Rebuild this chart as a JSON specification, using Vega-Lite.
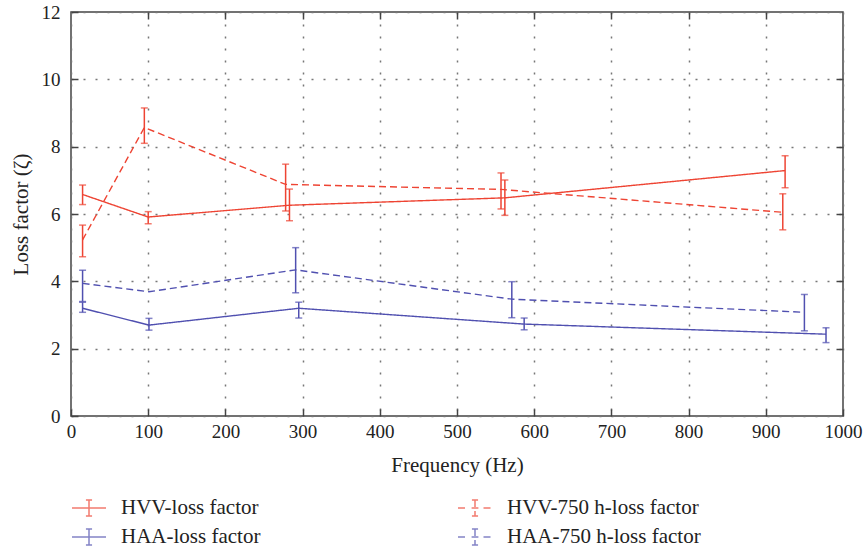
{
  "$schema": "https://vega.github.io/schema/vega-lite/v6.json",
  "width": 772,
  "height": 404,
  "autosize": {"type": "none"},
  "padding": {"left": 71, "top": 12, "right": 21, "bottom": 132},
  "background": "white",
  "config": {
    "font": "Liberation Serif",
    "view": {"stroke": "#444444", "strokeWidth": 1.5},
    "axis": {
      "domain": false,
      "labelFont": "Liberation Serif",
      "labelFontSize": 19,
      "labelColor": "#222222",
      "labelFlush": false,
      "titleFont": "Liberation Serif",
      "titleFontSize": 21,
      "titleFontWeight": "normal",
      "titleColor": "#222222",
      "tickColor": "#444444",
      "tickWidth": 1.5,
      "gridColor": "#777777",
      "gridDash": [2, 10],
      "gridWidth": 1.5
    },
    "legend": {
      "labelFont": "Liberation Serif",
      "labelFontSize": 21,
      "labelColor": "#222222",
      "labelLimit": 400
    }
  },
  "data": {
    "values": [
      {"series": "HVV-loss factor", "freq": 15, "val": 6.58, "lo": 6.28, "hi": 6.86},
      {"series": "HVV-loss factor", "freq": 100, "val": 5.91, "lo": 5.71, "hi": 6.07},
      {"series": "HVV-loss factor", "freq": 283, "val": 6.26, "lo": 5.8, "hi": 6.74},
      {"series": "HVV-loss factor", "freq": 562, "val": 6.48, "lo": 5.96, "hi": 7.01},
      {"series": "HVV-loss factor", "freq": 925, "val": 7.29, "lo": 6.78, "hi": 7.73},
      {"series": "HVV-750 h-loss factor", "freq": 15, "val": 5.23, "lo": 4.73, "hi": 5.67},
      {"series": "HVV-750 h-loss factor", "freq": 95, "val": 8.57, "lo": 8.1, "hi": 9.15},
      {"series": "HVV-750 h-loss factor", "freq": 278, "val": 6.88, "lo": 6.09, "hi": 7.48},
      {"series": "HVV-750 h-loss factor", "freq": 557, "val": 6.73, "lo": 6.15, "hi": 7.22},
      {"series": "HVV-750 h-loss factor", "freq": 922, "val": 6.05, "lo": 5.53, "hi": 6.6},
      {"series": "HAA-loss factor", "freq": 15, "val": 3.2, "lo": 3.08, "hi": 3.38},
      {"series": "HAA-loss factor", "freq": 101, "val": 2.7, "lo": 2.55, "hi": 2.9},
      {"series": "HAA-loss factor", "freq": 295, "val": 3.2, "lo": 2.91, "hi": 3.38},
      {"series": "HAA-loss factor", "freq": 587, "val": 2.73, "lo": 2.56, "hi": 2.91},
      {"series": "HAA-loss factor", "freq": 978, "val": 2.43, "lo": 2.18, "hi": 2.62},
      {"series": "HAA-750 h-loss factor", "freq": 15, "val": 3.94, "lo": 3.4, "hi": 4.33},
      {"series": "HAA-750 h-loss factor", "freq": 101, "val": 3.69, "lo": null, "hi": null},
      {"series": "HAA-750 h-loss factor", "freq": 291, "val": 4.34, "lo": 3.66, "hi": 5.0},
      {"series": "HAA-750 h-loss factor", "freq": 571, "val": 3.47, "lo": 2.92, "hi": 3.99},
      {"series": "HAA-750 h-loss factor", "freq": 950, "val": 3.08, "lo": 2.53, "hi": 3.61}
    ]
  },
  "layer": [
    {
      "mark": {"type": "line", "strokeWidth": 1.4},
      "encoding": {
        "x": {
          "field": "freq", "type": "quantitative",
          "scale": {"domain": [0, 1000], "nice": false},
          "axis": {
            "values": [0, 100, 200, 300, 400, 500, 600, 700, 800, 900, 1000],
            "format": "d",
            "title": "Frequency (Hz)",
            "grid": true,
            "tickSize": -7,
            "labelPadding": 13,
            "titleX": 386, "titleY": 49, "titleBaseline": "middle", "titleAlign": "center"
          }
        },
        "y": {
          "field": "val", "type": "quantitative",
          "scale": {"domain": [0, 12], "nice": false},
          "axis": {
            "values": [0, 2, 4, 6, 8, 10, 12],
            "format": "d",
            "title": "Loss factor (ζ)",
            "grid": true,
            "tickSize": -7,
            "labelPadding": 18,
            "titleX": -50, "titleY": 202, "titleBaseline": "middle", "titleAlign": "center", "titleAngle": -90
          }
        },
        "color": {
          "field": "series", "type": "nominal",
          "scale": {
            "domain": ["HVV-loss factor", "HAA-loss factor", "HVV-750 h-loss factor", "HAA-750 h-loss factor"],
            "range": ["#ee4433", "#5050b0", "#ee4433", "#5050b0"]
          },
          "legend": {
            "orient": "none", "legendX": 0, "legendY": 478,
            "title": null, "columns": 2, "columnPadding": 194, "rowPadding": -1,
            "symbolStrokeWidth": 1.5, "symbolSize": 1156, "labelOffset": 14, "padding": 0
          }
        },
        "strokeDash": {
          "field": "series", "type": "nominal",
          "scale": {
            "domain": ["HVV-loss factor", "HAA-loss factor", "HVV-750 h-loss factor", "HAA-750 h-loss factor"],
            "range": [[1, 0], [1, 0], [7, 4], [7, 4]]
          },
          "legend": null
        }
      }
    },
    {
      "transform": [{"filter": "datum.lo != null"}],
      "mark": {"type": "errorbar", "thickness": 1.5, "ticks": {"size": 7, "thickness": 1.5}},
      "encoding": {
        "x": {"field": "freq", "type": "quantitative", "axis": null},
        "y": {"field": "lo", "type": "quantitative", "axis": null},
        "y2": {"field": "hi"},
        "color": {"field": "series", "type": "nominal"}
      }
    },
    {
      "transform": [{"filter": "datum.freq < 0"}],
      "mark": {"type": "point", "strokeWidth": 1.5, "filled": false},
      "encoding": {
        "x": {"field": "freq", "type": "quantitative", "axis": null},
        "y": {"field": "val", "type": "quantitative", "axis": null},
        "color": {"field": "series", "type": "nominal"},
        "shape": {
          "field": "series", "type": "nominal",
          "scale": {
            "domain": ["HVV-loss factor", "HAA-loss factor", "HVV-750 h-loss factor", "HAA-750 h-loss factor"],
            "range": [
              "M-1,0L1,0M0,-0.47L0,0.47M-0.18,-0.47L0.18,-0.47M-0.18,0.47L0.18,0.47",
              "M-1,0L1,0M0,-0.47L0,0.47M-0.18,-0.47L0.18,-0.47M-0.18,0.47L0.18,0.47",
              "M-1,0L-0.5,0M0.5,0L1,0M-0.2,0L0.2,0M0,-0.47L0,0.47M-0.18,-0.47L0.18,-0.47M-0.18,0.47L0.18,0.47",
              "M-1,0L-0.5,0M0.5,0L1,0M-0.2,0L0.2,0M0,-0.47L0,0.47M-0.18,-0.47L0.18,-0.47M-0.18,0.47L0.18,0.47"
            ]
          }
        }
      }
    },
    {
      "mark": {"type": "rule", "opacity": 0},
      "encoding": {
        "x": {"field": "freq", "type": "quantitative", "axis": {"orient": "top", "values": [100, 200, 300, 400, 500, 600, 700, 800, 900], "labels": false, "title": null, "grid": false, "tickSize": -7}},
        "y": {"field": "val", "type": "quantitative", "axis": {"orient": "right", "values": [2, 4, 6, 8, 10], "labels": false, "title": null, "grid": false, "tickSize": -7}}
      }
    }
  ],
  "resolve": {"axis": {"x": "independent", "y": "independent"}}
}
